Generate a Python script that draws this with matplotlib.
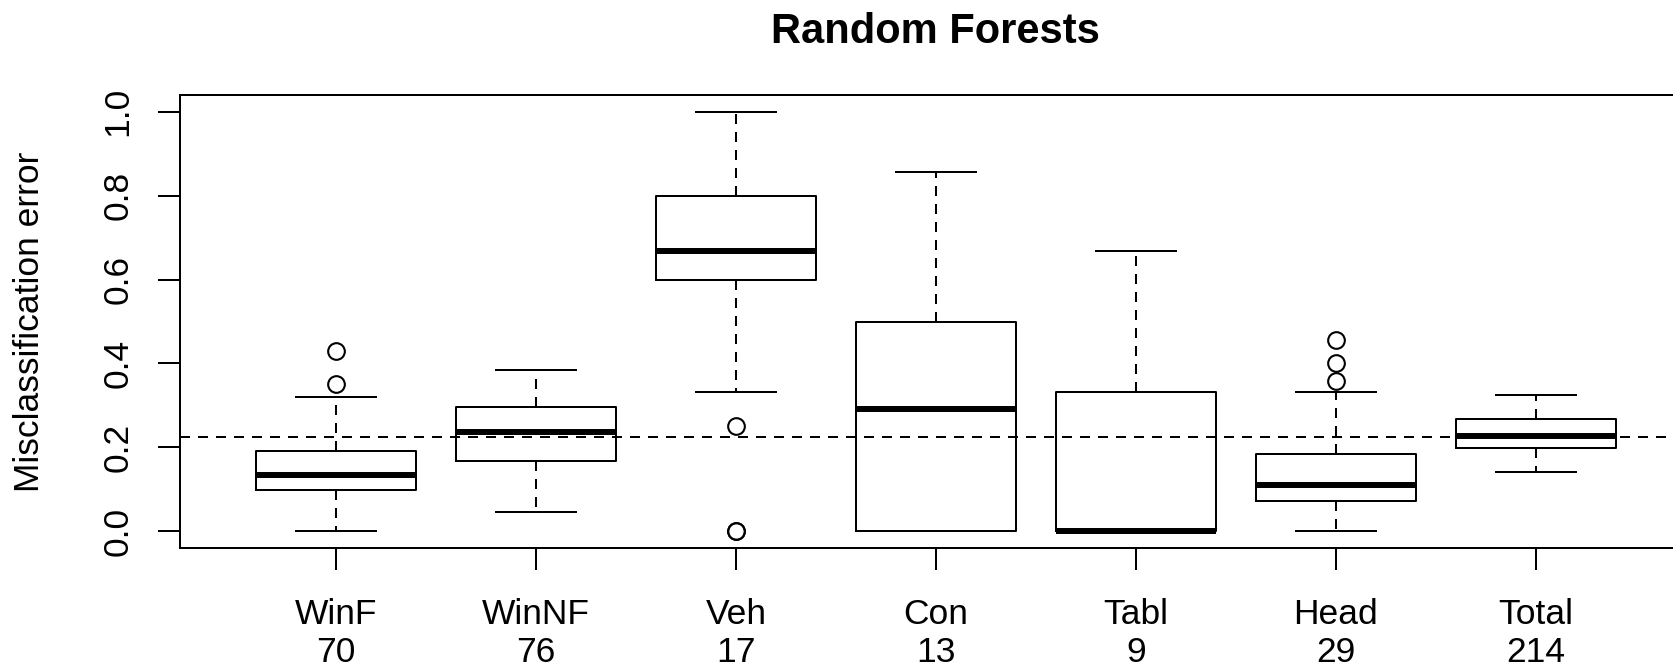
import matplotlib
matplotlib.use('agg')
import matplotlib.pyplot as plt

plt.rcParams['font.family'] = ['Liberation Sans', 'DejaVu Sans']

categories = ['WinF', 'WinNF', 'Veh', 'Con', 'Tabl', 'Head', 'Total']
counts = [70, 76, 17, 13, 9, 29, 214]
q1 = [0.098, 0.167, 0.600, 0.0, 0.0, 0.071, 0.198]
med = [0.135, 0.236, 0.667, 0.292, 0.0, 0.111, 0.226]
q3 = [0.192, 0.296, 0.800, 0.500, 0.333, 0.183, 0.268]
whislo = [0.0, 0.046, 0.333, 0.0, 0.0, 0.0, 0.140]
whishi = [0.320, 0.385, 1.0, 0.857, 0.667, 0.333, 0.324]
fliers = [[0.35, 0.429], [], [0.25, 0.0, 0.0], [], [], [0.357, 0.40, 0.455], []]
overall = 0.225

W, H = 1674, 670
fig = plt.figure(figsize=(W / 100, H / 100), dpi=100)
ax = fig.add_axes([180 / W, (H - 548) / H, 1512 / W, (548 - 95) / H])

stats = []
for i, c in enumerate(categories):
    stats.append(dict(label=c, q1=q1[i], med=med[i], q3=q3[i],
                      whislo=whislo[i], whishi=whishi[i], fliers=fliers[i]))

pos = list(range(1, len(categories) + 1))
lw = 1.44
ax.bxp(stats, positions=pos, widths=0.8, capwidths=0.4,
       boxprops=dict(color='black', linewidth=lw),
       whiskerprops=dict(color='black', linewidth=lw, linestyle=(0, (5, 4))),
       capprops=dict(color='black', linewidth=lw),
       medianprops=dict(color='black', linewidth=4.3, solid_capstyle='butt'),
       flierprops=dict(marker='o', markersize=12, markerfacecolor='none',
                       markeredgecolor='black', markeredgewidth=1.5))

ax.axhline(overall, color='black', linewidth=lw, linestyle=(0, (5, 4)), zorder=5)

ax.set_xlim(0.22, 7.78)
ax.set_ylim(-0.04, 1.04)
ax.set_yticks([0.0, 0.2, 0.4, 0.6, 0.8, 1.0])
ax.set_yticklabels(['0.0', '0.2', '0.4', '0.6', '0.8', '1.0'], rotation=90,
                   va='center', fontsize=25.5)
ax.set_xticks(pos)
ax.set_xticklabels([f'{c}\n{n}' for c, n in zip(categories, counts)],
                   fontsize=25.5, linespacing=1.2)
ax.tick_params(axis='both', length=16, width=lw, direction='out')
ax.tick_params(axis='x', pad=20)
ax.tick_params(axis='y', pad=17)
for s in ax.spines.values():
    s.set_linewidth(lw)

fig.text(30 / W, 1 - 321.5 / H, 'Misclassification error', rotation=90,
         ha='center', va='center', fontsize=25.5)
fig.text(935 / W, 1 - 32 / H, 'Random Forests', ha='center', va='center',
         fontsize=30, fontweight='bold')

fig.savefig('out.png', dpi=100)
